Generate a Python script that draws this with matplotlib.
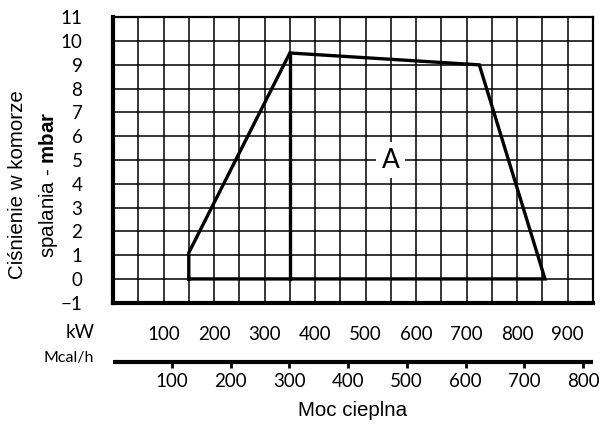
import numpy as np
import matplotlib
matplotlib.use("Agg")
import matplotlib.pyplot as plt
from matplotlib.lines import Line2D

# ---- data ----
outline_kw = [150, 150, 350, 725, 855, 150]
outline_mbar = [0, 1.1, 9.5, 9.0, 0, 0]
split_kw = [350, 350]
split_mbar = [0, 9.5]
kw_ticks = [100, 200, 300, 400, 500, 600, 700, 800, 900]
mcal_ticks = [100, 200, 300, 400, 500, 600, 700, 800]
y_ticks = [-1, 0, 1, 2, 3, 4, 5, 6, 7, 8, 9, 10, 11]
kw_to_mcal = 0.86
kw_max = 950
area_label = "A"
area_pos = (550, 5)

plt.rcParams['mathtext.fontset'] = 'custom'
plt.rcParams['mathtext.rm'] = 'Liberation Sans'
plt.rcParams['mathtext.bf'] = 'Liberation Sans:bold'

tickfont = dict(family=['Lato', 'DejaVu Sans'], weight='normal', size=13.5, color='black')

fig = plt.figure(figsize=(6.05, 4.32), dpi=100)
ax = fig.add_axes([113/605, 1-302.7/432, 480/605, 285.4/432])
ax.set_xlim(0, kw_max)
ax.set_ylim(-1, 11)

ax.set_xticks(np.arange(0, kw_max + 1, 50), minor=True)
ax.set_xticks(kw_ticks)
ax.set_xticklabels([str(v) for v in kw_ticks], **tickfont)
ax.set_yticks(y_ticks)
ax.set_yticklabels([str(v).replace('-', '\u2212') for v in y_ticks], **tickfont)
ax.tick_params(axis='both', which='both', length=0)
ax.tick_params(axis='y', pad=22)
ax.tick_params(axis='x', pad=17)
ax.grid(which='both', color='black', linewidth=1.1)
ax.set_axisbelow(True)

for s in ['left', 'bottom']:
    ax.spines[s].set_linewidth(3)
for s in ['top', 'right']:
    ax.spines[s].set_linewidth(1.6)

ax.plot(outline_kw, outline_mbar, color='black', linewidth=2.4, solid_joinstyle='miter', zorder=3)
ax.plot(split_kw, split_mbar, color='black', linewidth=2.4, zorder=3)

ax.text(area_pos[0], area_pos[1], area_label, ha='center', va='center',
        family=['Lato', 'DejaVu Sans'], weight='normal', size=19, zorder=4, color='black',
        bbox=dict(facecolor='white', edgecolor='none', pad=4))

# secondary Mcal/h axis
sec_loc = -0.2067
sec = ax.secondary_xaxis(sec_loc, functions=(lambda x: x * kw_to_mcal, lambda x: x / kw_to_mcal))
sec.set_xticks(mcal_ticks)
sec.set_xticklabels([str(v) for v in mcal_ticks], **tickfont)
sec.tick_params(axis='x', length=4, width=2, direction='out', pad=4)
sec.spines['bottom'].set_visible(False)
ax.add_line(Line2D([0, 1], [sec_loc, sec_loc], transform=ax.transAxes, color='black',
                   linewidth=3, solid_capstyle='butt', clip_on=False))

ax.text(-0.0375, -0.105, "kW", transform=ax.transAxes, ha='right', va='center', **tickfont)
ax.text(-0.04, -0.194, "Mcal/h", transform=ax.transAxes, ha='right', va='center',
        family=['Lato', 'DejaVu Sans'], weight='normal', size=11.5, color='black')

ax.text(0.5, -0.376, "Moc cieplna", transform=ax.transAxes, ha='center', va='center',
        family=['Liberation Sans', 'DejaVu Sans'], size=14.8)
ax.text(-0.198, 0.412, "Ciśnienie w komorze", transform=ax.transAxes, ha='center', va='center',
        rotation=90, family=['Liberation Sans', 'DejaVu Sans'], size=14.8)
ax.text(-0.135, 0.412, r"spalania - $\mathbf{mbar}$", transform=ax.transAxes, ha='center', va='center',
        rotation=90, family=['Liberation Sans', 'DejaVu Sans'], size=14.8)

fig.savefig("out.png", dpi=100)
